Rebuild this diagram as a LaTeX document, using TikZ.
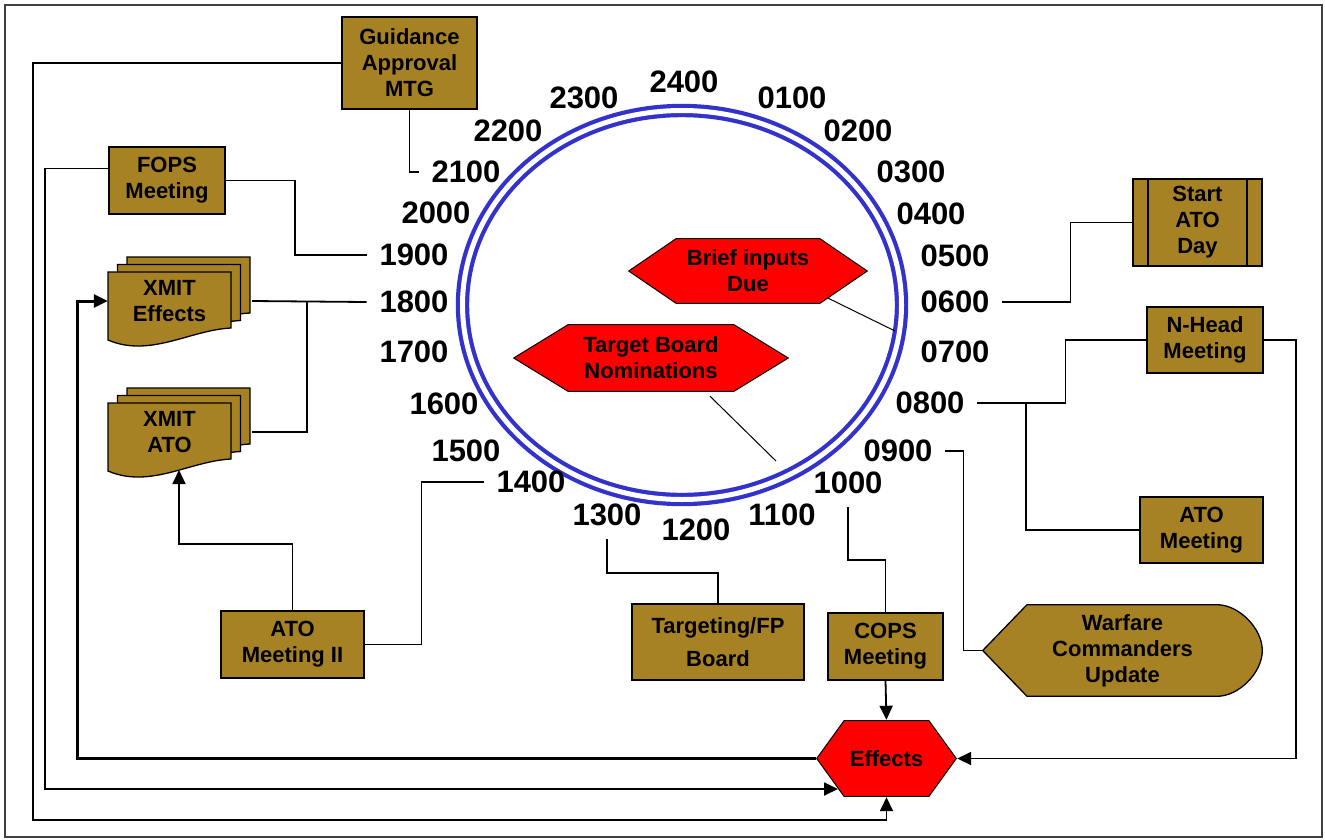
\documentclass[tikz,border=0pt]{standalone}
\usepackage{fontspec}
\setmainfont{Liberation Sans}
\usetikzlibrary{arrows.meta}

\definecolor{boxgold}{RGB}{167,130,37}
\definecolor{ringblue}{RGB}{51,51,204}

\begin{document}
\begin{tikzpicture}[x=1pt,y=-1pt]

    \tikzset{
      boxstyle/.style={draw=black,line width=1.3pt,fill=boxgold,align=center,inner sep=0pt,
        font=\fontsize{22}{26}\selectfont\bfseries},
      hourstyle/.style={inner sep=0pt,outer sep=13pt,font=\fontsize{31}{36}\selectfont\bfseries},
      doctext/.style={inner sep=0pt,minimum width=123pt,align=center,
        font=\fontsize{22}{26}\selectfont\bfseries},
      docstyle/.style={draw=black,line width=1.3pt,fill=boxgold},
      ringstyle/.style={draw=ringblue,line width=4.2pt,double=white,double distance=5pt},
      tip/.style={-{Triangle[length=14pt,width=13pt]}},
      hexstyle/.style={align=center,inner sep=0pt,font=\fontsize{22}{26}\selectfont\bfseries,
        path picture={\draw[fill=red,line width=1pt]
          ([xshift=0.7pt]path picture bounding box.west)
          -- ([xshift=#1,yshift=-0.7pt]path picture bounding box.north west)
          -- ([xshift=-#1,yshift=-0.7pt]path picture bounding box.north east)
          -- ([xshift=-0.7pt]path picture bounding box.east)
          -- ([xshift=-#1,yshift=0.7pt]path picture bounding box.south east)
          -- ([xshift=#1,yshift=0.7pt]path picture bounding box.south west) -- cycle;}},
      displaystyle/.style={align=center,inner sep=0pt,font=\fontsize{22}{26}\selectfont\bfseries,
        path picture={\draw[fill=boxgold,line width=1.3pt]
          ([xshift=0.7pt]path picture bounding box.west)
          -- ([xshift=45pt,yshift=-0.7pt]path picture bounding box.north west)
          -- ([xshift=-46pt,yshift=-0.7pt]path picture bounding box.north east)
          .. controls ([xshift=-24pt,yshift=-0.7pt]path picture bounding box.north east)
          and ([xshift=-0.7pt,yshift=22pt]path picture bounding box.east)
          .. ([xshift=-0.7pt]path picture bounding box.east)
          .. controls ([xshift=-0.7pt,yshift=-22pt]path picture bounding box.east)
          and ([xshift=-24pt,yshift=0.7pt]path picture bounding box.south east)
          .. ([xshift=-46pt,yshift=0.7pt]path picture bounding box.south east)
          -- ([xshift=45pt,yshift=0.7pt]path picture bounding box.south west) -- cycle;}},
      procstyle/.style={path picture={
          \draw[line width=1.3pt] ([xshift=15pt]path picture bounding box.north west)
            -- ([xshift=15pt]path picture bounding box.south west);
          \draw[line width=1.3pt] ([xshift=-15pt]path picture bounding box.north east)
            -- ([xshift=-15pt]path picture bounding box.south east);}}
    }

    \useasboundingbox (0,0) rectangle (1325,839);
    \draw[black!75,line width=1.5pt] (5,5) rectangle (1322,837);

    % clock ring and hours
    \draw[ringstyle] (682,305) ellipse [x radius=219.5, y radius=194.5];
    \foreach \h/\x/\y in {2400/684/82, 0100/792/98, 0200/858/131, 0300/911/172,
        0400/931/214, 0500/955/256, 0600/955/302, 0700/955/352, 0800/930/403,
        0900/898/451, 1000/848/483, 1100/782/515, 1200/696/530, 1300/607/515,
        1400/531/482, 1500/466/451, 1600/444/404, 1700/414/352, 1800/414/302,
        1900/414/255, 2000/436/213, 2100/466/172, 2200/508/131, 2300/584/98}
        \node[hourstyle] (t\h) at (\x,\y) {\h};

    % meetings
    \node[boxstyle,minimum width=135pt,minimum height=92pt] (gam) at (409.5,63) {Guidance\\Approval\\MTG};
    \node[boxstyle,minimum width=116pt,minimum height=67pt] (fops) at (167,180.5) {FOPS\\Meeting};
    \node[boxstyle,minimum width=143pt,minimum height=67pt] (atom2) at (292.5,644.5) {ATO\\Meeting II};
    \node[boxstyle,minimum width=172pt,minimum height=76pt] (tfpb) at (718,642) {Targeting/FP\\[7pt]Board};
    \node[boxstyle,minimum width=115pt,minimum height=67pt] (cops) at (885.5,646.5) {COPS\\Meeting};
    \node[boxstyle,minimum width=116pt,minimum height=66pt] (nhead) at (1205,340) {N-Head\\Meeting};
    \node[boxstyle,minimum width=123pt,minimum height=66pt] (atom) at (1201.5,530) {ATO\\Meeting};
    \node[boxstyle,procstyle,minimum width=129pt,minimum height=87pt] (satod) at (1197.5,222.5) {Start\\ATO\\Day};
    \node[displaystyle,minimum width=281pt,minimum height=93pt] (wcu) at (1122.5,650.5) {Warfare\\Commanders\\Update};

    % red events
    \node[hexstyle=48pt,minimum width=240pt,minimum height=66pt] (bid) at (748,271) {Brief inputs\\Due};
    \node[hexstyle=55pt,minimum width=276pt,minimum height=68pt] (tbn) at (651,358) {Target Board\\Nominations};
    \node[hexstyle=28pt,minimum width=141pt,minimum height=77pt] (effects) at (886.5,758.5) {Effects};

    % XMIT documents
    \foreach \dy in {0,131}
        \foreach \k in {2,1,0}
            \draw[docstyle,shift={(9.5*\k,\dy-7.5*\k)}] (108,272) -- (231,272) -- (231,328)
                .. controls (190,330) and (150,358) .. (108,340) -- cycle;
    \node[doctext] (xeff) at (169.5,301) {XMIT\\Effects};
    \node[doctext] (xato) at (169.5,432) {XMIT\\ATO};

    \coordinate (xeffR) at (252,301);
    \coordinate (xatoR) at (252,432);
    \coordinate (xatoB) at (179,470);
    \coordinate (j1800) at (307,301);
    \coordinate (j0800) at (1026,403);
    \coordinate (effSW) at (838,789);
    \coordinate (c0700) at (895,331);
    \coordinate (c1030) at (776,461);

    \begin{scope}[every path/.style={line width=1.8pt}]
        \draw (gam.south) |- (t2100.west);
        \draw[tip] (gam.west) -| (33,820) -| (effects.south);
        \draw[tip] ([yshift=12pt]fops.west) -- ++(-63,0) |- (effSW);
        \draw (fops.east) -- ++(69,0) |- (t1900.west);
        \draw (t1800.west) -- (xeffR);
        \draw (xatoR) -| (j1800);
        \draw[tip,line width=3pt] (effects.west) -| (77,301) -- (xeff.west);
        \draw[tip] (atom2.north) -- ++(0,-66) -| (xatoB);
        \draw (t1400.west) -- ++(-62,0) |- (atom2.east);
        \draw (t1300.south) -- ++(0,34) -| (tfpb.north);
        \draw (t1000.south) -- ++(0,53) -| (cops.north);
        \draw[tip] (cops.south) -- (effects.north);
        \draw (t0900.east) -- ++(18,0) |- (wcu.west);
        \draw (t0800.east) -- ++(88,0) |- (nhead.west);
        \draw (j0800) |- (atom.west);
        \draw[tip] (nhead.east) -- ++(32,0) |- (effects.east);
        \draw (t0600.east) -- ++(68,0) |- (satod.west);
        \draw[line width=1pt] ([xshift=-40pt,yshift=6pt]bid.south east) -- (c0700);
        \draw[line width=1pt] ([xshift=59pt,yshift=-4pt]tbn.south) -- (c1030);
    \end{scope}
\end{tikzpicture}
\end{document}
